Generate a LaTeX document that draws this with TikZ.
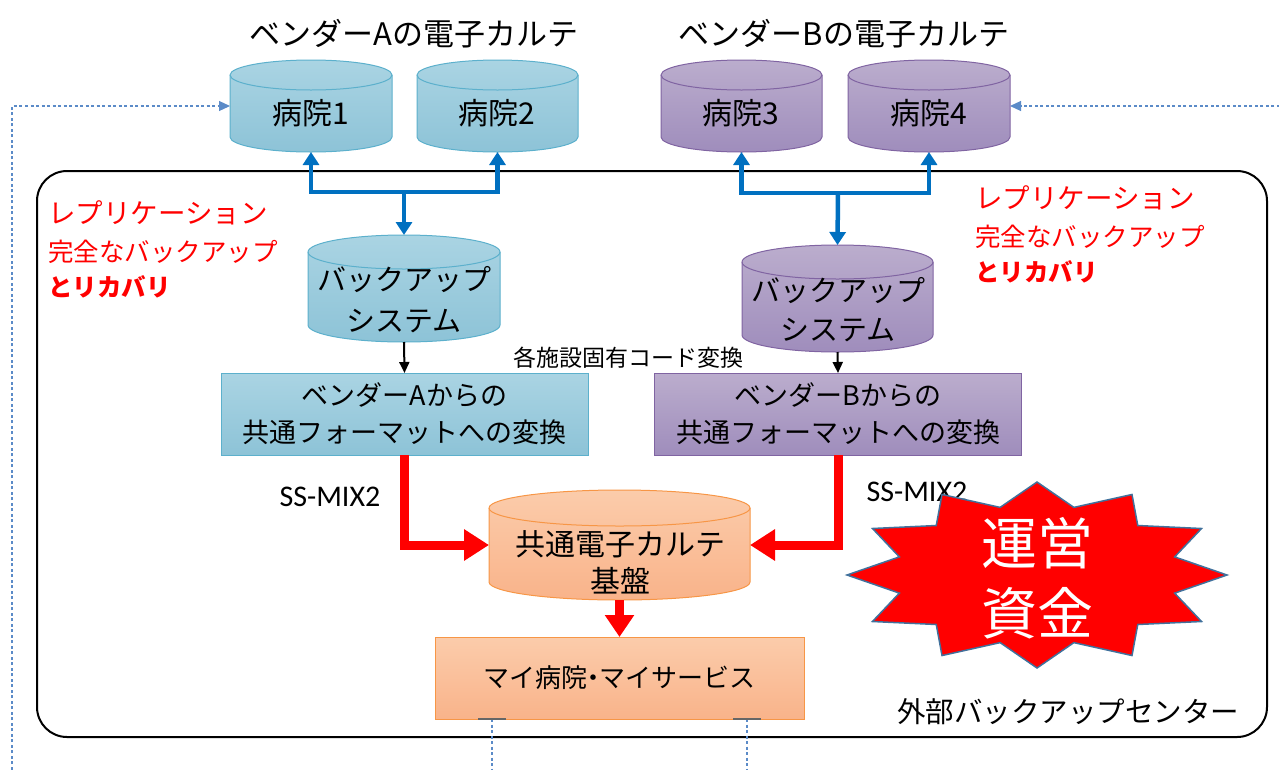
\documentclass[tikz,border=0pt]{standalone}
\usepackage{fontspec}
\setmainfont{Noto Sans CJK JP}
\newfontfamily\latinfont{Carlito}
\usetikzlibrary{arrows.meta,calc}

\definecolor{cBlueTop}{HTML}{AAD4E3}
\definecolor{cBlueBot}{HTML}{8DC3D7}
\definecolor{cBlueLine}{HTML}{5CB0CC}
\definecolor{cPurTop}{HTML}{BBADCD}
\definecolor{cPurBot}{HTML}{9F8DBC}
\definecolor{cPurLine}{HTML}{8064A2}
\definecolor{cOrTop}{HTML}{FBCCAB}
\definecolor{cOrBot}{HTML}{F9B38A}
\definecolor{cOrLine}{HTML}{F79646}
\definecolor{cArrowBlue}{HTML}{0070C0}
\definecolor{cDash}{HTML}{5B8BC8}
\definecolor{cStarLine}{HTML}{41719C}
\definecolor{cRed}{HTML}{FF0000}

\tikzset{
  anchorbox/.style={rectangle,inner sep=0pt,outer sep=0pt},
  fs/.style={font=\fontsize{#1}{#1}\selectfont},
  fsb/.style={font=\bfseries\fontsize{#1}{#1}\selectfont},
  blueconn/.style={draw=cArrowBlue,line width=4.5pt},
  bluetip/.style={-{Triangle[width=16pt,length=13pt]}},
  redconn/.style={draw=cRed,line width=9pt,-{Triangle[width=30pt,length=25pt]}},
  blackconn/.style={draw=black,line width=2pt,-{Triangle[width=10pt,length=11pt]}},
  dashconn/.style={draw=cDash,line width=1.2pt,dash pattern=on 3pt off 2.5pt,-{Triangle[width=10pt,length=11pt]}},
  dashplain/.style={draw=cDash,line width=1.2pt,dash pattern=on 3pt off 2.5pt},
  redtxt/.style={text=cRed,inner sep=0pt,anchor=west},
  flatbox/.style={rectangle,inner sep=0pt,outer sep=0pt,line width=1pt,align=center},
}

\newcommand\cylnode[7]{%
  \pgfmathsetmacro\cylrx{(#4-#2)/2}%
  \pgfmathsetmacro\cylw{#4-#2}%
  \pgfmathsetmacro\cylh{#5-#3}%
  \path[top color=#7Top,bottom color=#7Bot,draw=#7Line,line width=1pt]
    (#2,#3+#6) -- (#2,#5-#6) arc[start angle=180,end angle=0,x radius=\cylrx,y radius=#6]
    -- (#4,#3+#6) arc[start angle=0,end angle=-180,x radius=\cylrx,y radius=#6] -- cycle;
  \draw[#7Line,line width=1pt] (#2,#3+#6) arc[start angle=180,end angle=0,x radius=\cylrx,y radius=#6];
  \node[anchorbox,minimum width=\cylw pt,minimum height=\cylh pt] (#1) at ({(#2+#4)/2},{(#3+#5)/2}) {};
}

\begin{document}
\begin{tikzpicture}[x=1pt,y=-1pt]
\useasboundingbox (0,0) rectangle (1279,769);

% outer backup centre frame
\node[draw=black,line width=2pt,rounded corners=30pt,minimum width=1230pt,minimum height=566pt,inner sep=0pt] (centre) at (652,454) {};

% titles
\node[fs=31,inner sep=0pt] (titleA) at (414,34) {ベンダーAの電子カルテ};
\node[fs=31,inner sep=0pt] (titleB) at (844,34) {ベンダーBの電子カルテ};

% hospitals
\cylnode{h1}{230}{60}{392}{152}{15}{cBlue}
\cylnode{h2}{417}{60}{578}{152}{15}{cBlue}
\cylnode{h3}{661}{60}{822}{152}{15}{cPur}
\cylnode{h4}{848}{60}{1010}{152}{15}{cPur}
\node[fs=30,inner sep=0pt] (h1t) at (311,113) {病院1};
\node[fs=30,inner sep=0pt] (h2t) at (497,113) {病院2};
\node[fs=30,inner sep=0pt] (h3t) at (741,113) {病院3};
\node[fs=30,inner sep=0pt] (h4t) at (929,113) {病院4};

% backup systems
\cylnode{bkA}{308}{235}{500}{342}{17}{cBlue}
\cylnode{bkB}{742}{245}{933}{352}{17}{cPur}
\node[inner sep=0pt,align=center,font=\fontsize{29}{41}\selectfont] (bkAt) at (404,300) {バックアップ\\システム};
\node[inner sep=0pt,align=center,font=\fontsize{29}{39}\selectfont] (bkBt) at (838,310) {バックアップ\\システム};

% common EHR base
\cylnode{cc}{489}{490}{750}{600}{18}{cOr}
\node[inner sep=0pt,align=center,font=\fontsize{30}{37}\selectfont] (cct) at (620,562) {共通電子カルテ\\基盤};

% conversion boxes
\node[flatbox,top color=cBlueTop,bottom color=cBlueBot,draw=cBlueLine,minimum width=367pt,minimum height=82pt,font=\fontsize{27}{37}\selectfont] (boxA) at (404.5,414) {ベンダーAからの\\共通フォーマットへの変換};
\node[flatbox,top color=cPurTop,bottom color=cPurBot,draw=cPurLine,minimum width=367pt,minimum height=82pt,font=\fontsize{27}{37}\selectfont] (boxB) at (838,414) {ベンダーBからの\\共通フォーマットへの変換};

% my hospital box
\node[flatbox,top color=cOrTop,bottom color=cOrBot,draw=cOrLine,minimum width=369pt,minimum height=82pt,font=\fontsize{26}{26}\selectfont] (my) at (619.5,678) {マイ病院\hspace{-7pt}・\hspace{-7pt}マイサービス};

% blue replication connectors
\coordinate (jA) at (404,192);
\coordinate (jB) at (838,193);
\draw[blueconn,{Triangle[width=16pt,length=13pt]}-{Triangle[width=16pt,length=13pt]}]
  (h1.south) -- (h1.south |- jA) -- (h2.south |- jA) -- (h2.south);
\draw[blueconn,bluetip] (jA) -- (bkA.north);
\draw[blueconn,{Triangle[width=16pt,length=13pt]}-{Triangle[width=16pt,length=13pt]}]
  (h3.south) -- (h3.south |- jB) -- (h4.south |- jB) -- (h4.south);
\draw[blueconn,bluetip] (jB) -- (bkB.north);

% black arrows
\draw[blackconn] (bkA.south) -- (boxA.north);
\draw[blackconn] (bkB.south) -- (boxB.north);
\node[fs=23,inner sep=0pt] (codeconv) at (628,358) {各施設固有コード変換};

% red arrows
\draw[redconn] (boxA.south) |- (cc.west);
\draw[redconn] (boxB.south) |- (cc.east);
\draw[draw=cRed,line width=9pt,-{Triangle[width=28pt,length=22pt]}] (cc.south) -- (my.north);

% SS-MIX2 labels
\node[inner sep=0pt,font=\latinfont\fontsize{30}{30}\selectfont] (ssA) at (330,497) {SS-MIX2};
\node[inner sep=0pt,font=\latinfont\fontsize{30}{30}\selectfont] (ssB) at (917,492) {SS-MIX2};

% red captions
\node[redtxt,fs=27.5] (rl1) at (48,213) {レプリケーション};
\node[redtxt,fs=25.5] (rl2) at (48,252) {完全なバックアップ};
\node[redtxt,fsb=24.5] (rl3) at (48,287) {とリカバリ};
\node[redtxt,fs=27.5] (rr1) at (975,198) {レプリケーション};
\node[redtxt,fs=25.5] (rr2) at (975,237) {完全なバックアップ};
\node[redtxt,fsb=24.5] (rr3) at (975,272) {とリカバリ};

% star
\fill[cRed,draw=cStarLine,line width=1.5pt] (1227,575)
  \foreach \a in {0,30,...,330}{ -- ({1037+190*cos(\a)},{575+93*sin(\a)}) -- ({1037+142.5*cos(\a+15)},{575+70*sin(\a+15)}) } -- cycle;
\node[text=white,inner sep=0pt,align=center,font=\fontsize{56}{70}\selectfont] (fund) at (1037,578) {運営\\資金};

% centre label
\node[fs=28.5,inner sep=0pt,anchor=west] (centrelabel) at (897,712) {外部バックアップセンター};

% dashed links
\coordinate (lstart) at (12,775);
\coordinate (rstart) at (1285,106);
\draw[dashconn] (lstart) |- (h1.west);
\draw[dashconn] (rstart) -- (h4.east);
\coordinate (d1a) at (492,719);
\coordinate (d1b) at (492,775);
\coordinate (d2a) at (747,719);
\coordinate (d2b) at (747,775);
\draw[dashplain] (d1a) -- (d1b);
\draw[dashplain] (d2a) -- (d2b);
\draw[line width=2pt,black!60] ($(d1a)+(-14,0)$) -- ($(d1a)+(14,0)$);
\draw[line width=2pt,black!60] ($(d2a)+(-14,0)$) -- ($(d2a)+(14,0)$);
\end{tikzpicture}
\end{document}
